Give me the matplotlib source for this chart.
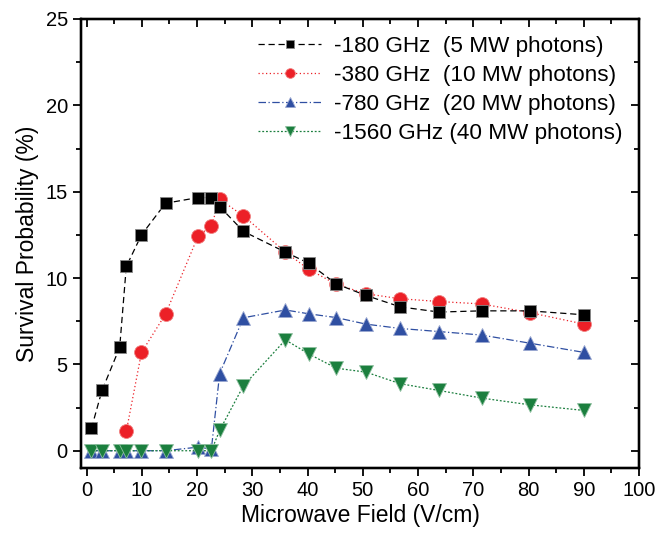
import matplotlib
matplotlib.use("Agg")
import matplotlib.pyplot as plt
from matplotlib.ticker import MultipleLocator

plt.rcParams['font.family'] = ['Liberation Sans', 'DejaVu Sans']

x_black = [0.9, 2.8, 6.0, 7.2, 9.95, 14.3, 20.2, 22.6, 24.1, 28.4, 36.0, 40.2, 45.2, 50.6, 56.8, 63.8, 71.5, 80.2, 90.1]
y_black = [1.31, 3.49, 5.98, 10.67, 12.5, 14.33, 14.66, 14.66, 14.14, 12.7, 11.5, 10.86, 9.66, 8.99, 8.33, 8.03, 8.1, 8.1, 7.87]

x_red = [7.2, 9.95, 14.3, 20.2, 22.6, 24.1, 28.4, 36.0, 40.2, 45.2, 50.6, 56.8, 63.8, 71.5, 80.2, 90.1]
y_red = [1.12, 5.69, 7.91, 12.44, 13.02, 14.56, 13.6, 11.5, 10.51, 9.64, 9.09, 8.8, 8.64, 8.5, 8.0, 7.33]

x_blue = [0.9, 2.8, 6.0, 7.2, 9.95, 14.3, 20.2, 22.6, 24.1, 28.4, 36.0, 40.2, 45.2, 50.6, 56.8, 63.8, 71.5, 80.2, 90.1]
y_blue = [0.0, 0.0, 0.0, 0.0, 0.0, 0.0, 0.21, 0.1, 4.47, 7.7, 8.15, 7.93, 7.71, 7.33, 7.08, 6.9, 6.7, 6.23, 5.69]

x_green = [0.9, 2.8, 6.0, 7.2, 9.95, 14.3, 20.2, 22.6, 24.1, 28.4, 36.0, 40.2, 45.2, 50.6, 56.8, 63.8, 71.5, 80.2, 90.1]
y_green = [0.0, 0.0, 0.0, 0.0, 0.0, 0.0, 0.0, 0.0, 1.18, 3.76, 6.42, 5.61, 4.78, 4.55, 3.88, 3.49, 3.05, 2.66, 2.33]

labels = ['-180 GHz  (5 MW photons)', '-380 GHz  (10 MW photons)',
          '-780 GHz  (20 MW photons)', '-1560 GHz (40 MW photons)']

fig = plt.figure(figsize=(6.61, 5.38), dpi=100)
ax = fig.add_axes([81/661, 70/538, (639-81)/661, (468-19)/538])

ax.plot(x_blue, y_blue, color='#2F4FA2', ls=(0, (6, 2, 1, 2)), lw=0.9, marker='^', ms=10.5,
        mec='#9aa8d0', mew=0.6, label=labels[2], zorder=3)
ax.plot(x_green, y_green, color='#1B7F3E', ls=(0, (1.5, 1.5)), lw=0.9, marker='v', ms=10.5,
        mec='#8fc0a0', mew=0.6, label=labels[3], zorder=4)
ax.plot(x_red, y_red, color='#EC2027', ls=(0, (1, 2)), lw=0.9, marker='o', ms=10,
        mec='#f08080', mew=0.6, label=labels[1], zorder=3)
ax.plot(x_black, y_black, color='black', ls=(0, (5, 3)), lw=0.9, marker='s', ms=8.5,
        mec='#888888', mew=0.6, label=labels[0], zorder=3)

ax.set_xlim(-1, 100)
ax.set_ylim(-1, 25)
ax.xaxis.set_major_locator(MultipleLocator(10))
ax.xaxis.set_minor_locator(MultipleLocator(5))
ax.yaxis.set_major_locator(MultipleLocator(5))
ax.yaxis.set_minor_locator(MultipleLocator(2.5))

for s in ax.spines.values():
    s.set_linewidth(1.6)

ax.tick_params(axis='both', which='major', labelsize=14.5, width=1.3, length=6, direction='out')
ax.tick_params(axis='both', which='minor', width=1.3, length=3.5, direction='out')

axt = ax.twiny()
axt.set_xlim(ax.get_xlim())
axt.xaxis.set_major_locator(MultipleLocator(10))
axt.xaxis.set_minor_locator(MultipleLocator(5))
axt.tick_params(axis='x', which='major', direction='in', length=6, width=1.3, labeltop=False)
axt.tick_params(axis='x', which='minor', direction='in', length=3.5, width=1.3)
axr = ax.twinx()
axr.set_ylim(ax.get_ylim())
axr.yaxis.set_major_locator(MultipleLocator(5))
axr.yaxis.set_minor_locator(MultipleLocator(2.5))
axr.tick_params(axis='y', which='major', direction='in', length=6, width=1.3, labelright=False)
axr.tick_params(axis='y', which='minor', direction='in', length=3.5, width=1.3)
for a in (axt, axr):
    for s in a.spines.values():
        s.set_linewidth(1.6)

ax.set_xlabel('Microwave Field (V/cm)', fontsize=16.5, labelpad=3)
ax.set_ylabel('Survival Probability (%)', fontsize=16.5, labelpad=5)

h, l = ax.get_legend_handles_labels()
order = [3, 2, 0, 1]
leg = ax.legend([h[i] for i in order], [l[i] for i in order], loc='upper right', frameon=False,
                fontsize=16.2, handlelength=2.8, handletextpad=0.55, labelspacing=0.36,
                borderaxespad=0.45, borderpad=0.3, markerscale=0.7)

fig.savefig('out.png', dpi=100)
